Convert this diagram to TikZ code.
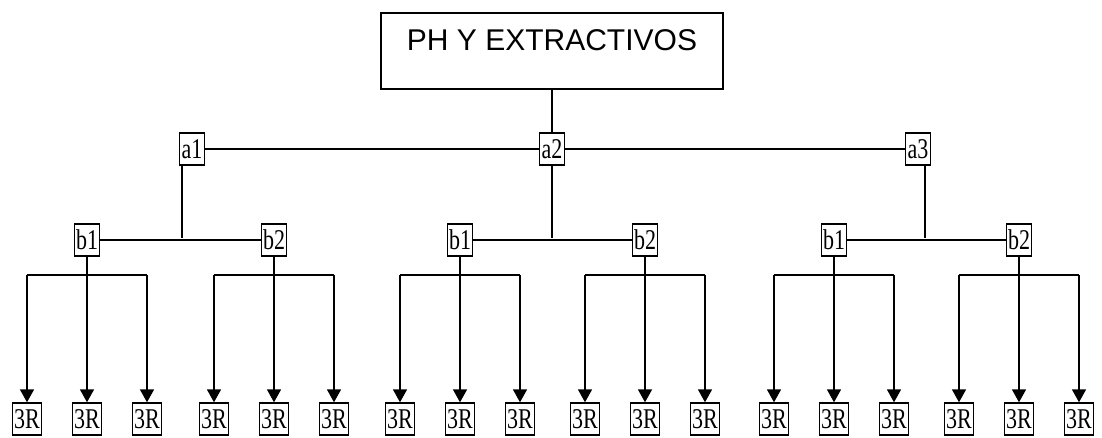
\documentclass[tikz,border=0pt]{standalone}
\usepackage{fontspec}
\setmainfont{Liberation Serif}
\newfontfamily\titlefont{Liberation Sans}
\usetikzlibrary{arrows.meta, positioning}
\newcommand{\tallbox}[1]{\scalebox{1}[1.3]{#1}}

\begin{document}
\begin{tikzpicture}[x=1pt, y=-1pt, >={Triangle[width=14pt,length=13pt]}, line width=1.4pt]
    \tikzset{
        titlebox/.style={draw, minimum width=342pt, inner ysep=11pt, text height=26pt, text depth=28pt, font=\titlefont\fontsize{30}{30}\selectfont},
        abox/.style={draw, minimum width=25pt, minimum height=32pt, inner sep=0.5pt, font=\fontsize{22}{22}\selectfont},
        rbox/.style={abox, minimum width=29pt}
    }
    \useasboundingbox (0,0) rectangle (1102,437);

    \node[titlebox] (ph) at (552,51) {PH Y EXTRACTIVOS};

    % first level
    \node[abox] (a1) at (192,149) {\tallbox{a1}};
    \node[abox] (a2) at (552,149) {\tallbox{a2}};
    \node[abox] (a3) at (918,149) {\tallbox{a3}};
    \draw (ph.south) -- (a2.north);
    \draw (a1.east) -- (a2.west);
    \draw (a2.east) -- (a3.west);

    \coordinate (j1) at (182,238);
    \coordinate (j2) at (552,238);
    \coordinate (j3) at (925,238);
    \draw (a1.south -| j1) -- (j1);
    \draw (a2.south) -- (j2);
    \draw (a3.south -| j3) -- (j3);

    % second level and leaves
    \foreach \n/\x/\t in {11/87/b1, 12/274/b2, 21/460/b1, 22/645/b2, 31/834/b1, 32/1019/b2} {
        \node[abox] (b\n) at (\x,240) {\tallbox{\t}};
        \coordinate (k\n) at (\x,275);
        \draw (b\n.south) -- (k\n);
        \foreach \i/\dx in {1/-60, 2/0, 3/60} {
            \node[rbox] (r\n\i) at (\x+\dx,419) {\tallbox{3R}};
            \draw[->, line width=1.7pt] (r\n\i.north |- k\n) -- (r\n\i.north);
        }
        \draw (r\n1.north |- k\n) -- (r\n3.north |- k\n);
    }
    \draw (b11.east) -- (b12.west);
    \draw (b21.east) -- (b22.west);
    \draw (b31.east) -- (b32.west);
\end{tikzpicture}
\end{document}
